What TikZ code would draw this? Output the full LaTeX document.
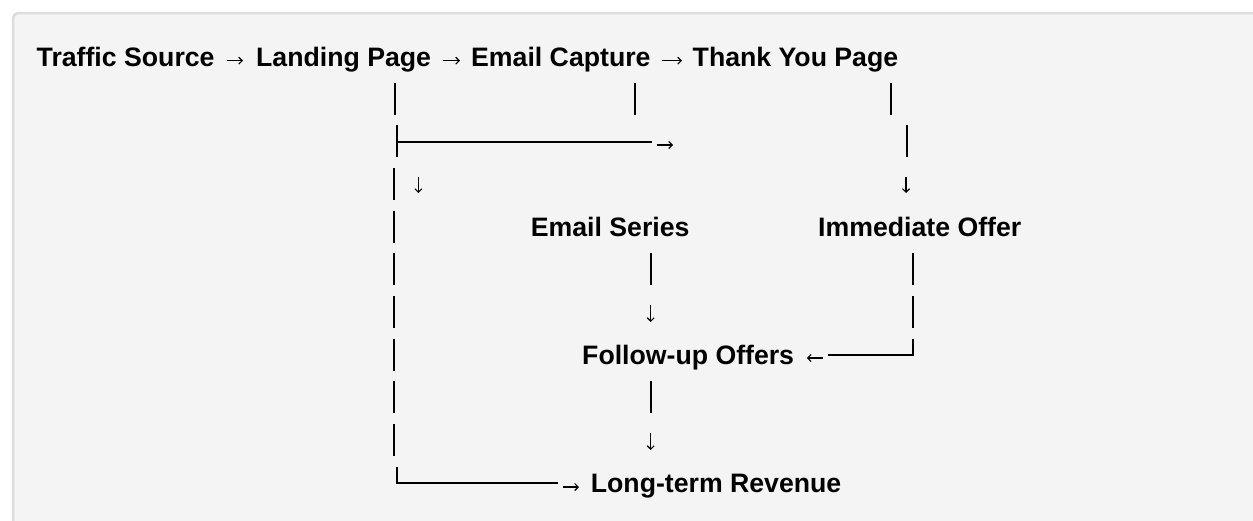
\documentclass[tikz,border=0pt]{standalone}
\usepackage{fontspec}
\setmainfont{Liberation Sans}
\usetikzlibrary{arrows.meta}

\definecolor{boxfill}{HTML}{F4F4F4}
\definecolor{boxrule}{HTML}{DDDDDD}

\begin{document}
\begin{tikzpicture}[x=1pt, y=-1pt,
		lbl/.style={inner sep=0pt, anchor=base west, font=\fontsize{26.67}{32}\selectfont\bfseries},
		bar/.style={line width=2pt},
		rule/.style={line width=1.6pt},
		arr/.style={line width=1.1pt, -{Straight Barb[length=3.5pt, width=7pt]}}]
	\useasboundingbox (0,0) rectangle (1253,520);
	\clip (0,0) rectangle (1253,520);
	\fill[white] (0,0) rectangle (1253,520);
	\filldraw[fill=boxfill, draw=boxrule, line width=2.5pt, rounded corners=6pt] (13,13) rectangle (1290,560);

	% top row
	\node[lbl] (src)   at (36.5,66) {Traffic Source};
	\node[lbl] (land)  at (256,66)  {Landing Page};
	\node[lbl] (capt)  at (471,66)  {Email Capture};
	\node[lbl] (thank) at (692.5,66) {Thank You Page};

	\draw[arr] ([shift={(12.5,-5.3)}]src.base east)  -- ([shift={(-13,-5.3)}]land.base west);
	\draw[arr] ([shift={(12,-5.3)}]land.base east)   -- ([shift={(-11,-5.3)}]capt.base west);
	\draw[arr] ([shift={(11,-5.3)}]capt.base east)   -- ([shift={(-10.5,-5.3)}]thank.base west);

	% other boxes
	\node[lbl] (series) at (530.7,236.7) {Email Series};
	\node[lbl] (offer)  at (818,236.7)   {Immediate Offer};
	\node[lbl] (follow) at (582,364.7)   {Follow-up Offers};
	\node[lbl] (rev)    at (590.7,492.7) {Long-term Revenue};

	% line 2
	\draw[bar] (395,82.7) -- ++(0,32);
	\draw[bar] (635,82.7) -- ++(0,32);
	\draw[bar] (891,82.7) -- ++(0,32);

	% line 3
	\draw[bar]  (397,125.3) -- ++(0,32);
	\draw[rule] (397,141.8) -- (652,141.8);
	\draw[arr]  (657,145) -- (673,145);
	\draw[bar]  (906.7,125.3) -- ++(0,32);

	% line 4
	\draw[arr] (418.3,177) -- (418.3,193);
	\draw[arr] (906,177) -- (906,193);

	% left column
	\foreach \k in {4,...,10}
		\draw[bar] (394.3,{66+(\k-1)*42.67-26}) -- ++(0,32);

	% middle column
	\draw[bar] (651,253.3) -- ++(0,32);
	\draw[arr] (650.7,305) -- (650.7,322);
	\draw[bar] (650.7,381.3) -- ++(0,32);
	\draw[arr] (650.7,433) -- (650.7,450);

	% right column
	\draw[bar]  (913.3,253.3) -- ++(0,32);
	\draw[bar]  (913.3,296) -- ++(0,32);
	\draw[bar]  (913.3,338.7) -- (913.3,354.7);
	\draw[rule] (914.3,354.7) -- (828,354.7);
	\draw[arr]  ([shift={(28.5,-6.7)}]follow.base east) -- ([shift={(12.5,-6.7)}]follow.base east);

	% bottom
	\draw[bar]  (397,466.7) -- (397,483.2);
	\draw[rule] (396,483.2) -- (558,483.2);
	\draw[arr]  ([shift={(-27.7,-5.7)}]rev.base west) -- ([shift={(-11.7,-5.7)}]rev.base west);
\end{tikzpicture}
\end{document}
